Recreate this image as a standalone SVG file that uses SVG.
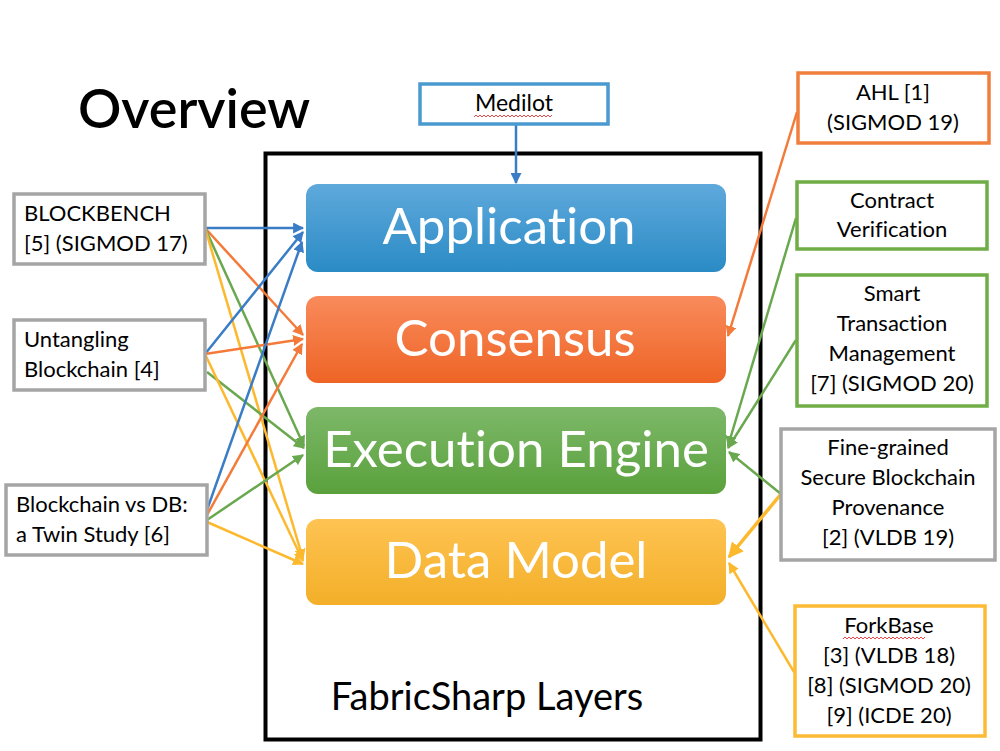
<svg xmlns="http://www.w3.org/2000/svg" width="1000" height="751" viewBox="0 0 1000 751">
<style>
text{font-family:Lato,"Open Sans","Liberation Sans",sans-serif;fill:#000;font-variant-ligatures:none}
.box{fill:#fff;stroke-width:3.5}
.gray{stroke:#A5A5A5}
.org{stroke:#F07F3C}
.grn{stroke:#70AD47}
.yel{stroke:#FDBA34}
.lbl{font-size:22px}
.mid{text-anchor:middle}
.layer{font-size:51px;fill:#fff;text-anchor:middle}
.c{fill:none;stroke-width:2.5}
.cb{stroke:#3A7DC6;marker-end:url(#ab)}
.co{stroke:#F47A3A;marker-end:url(#ao)}
.cg{stroke:#6AA84F;marker-end:url(#ag)}
.cy{stroke:#FDB92E;marker-end:url(#ay)}
.sq{fill:none;stroke:#E8474C;stroke-width:1}
</style>
<defs>
<linearGradient id="gb" x1="0" y1="0" x2="0" y2="1"><stop offset="0" stop-color="#5FA9DC"/><stop offset="1" stop-color="#2A8BC5"/></linearGradient>
<linearGradient id="go" x1="0" y1="0" x2="0" y2="1"><stop offset="0" stop-color="#F98B5C"/><stop offset="1" stop-color="#EE6425"/></linearGradient>
<linearGradient id="gg" x1="0" y1="0" x2="0" y2="1"><stop offset="0" stop-color="#7DB869"/><stop offset="1" stop-color="#5AA13C"/></linearGradient>
<linearGradient id="gy" x1="0" y1="0" x2="0" y2="1"><stop offset="0" stop-color="#FEC352"/><stop offset="1" stop-color="#F3AF28"/></linearGradient>
<marker id="ab" viewBox="0 0 10 10" refX="9" refY="5" markerWidth="4.4" markerHeight="4.4" orient="auto" markerUnits="strokeWidth"><path d="M0,0L10,5L0,10z" fill="#3A7DC6"/></marker>
<marker id="ao" viewBox="0 0 10 10" refX="9" refY="5" markerWidth="4.4" markerHeight="4.4" orient="auto" markerUnits="strokeWidth"><path d="M0,0L10,5L0,10z" fill="#F47A3A"/></marker>
<marker id="ag" viewBox="0 0 10 10" refX="9" refY="5" markerWidth="4.4" markerHeight="4.4" orient="auto" markerUnits="strokeWidth"><path d="M0,0L10,5L0,10z" fill="#6AA84F"/></marker>
<marker id="ay" viewBox="0 0 10 10" refX="9" refY="5" markerWidth="4.4" markerHeight="4.4" orient="auto" markerUnits="strokeWidth"><path d="M0,0L10,5L0,10z" fill="#FDB92E"/></marker>
</defs>
<rect width="1000" height="751" fill="#fff"/>
<text x="78" y="128" font-size="54" style="font-weight:600">Overview</text>

<g id="frame">
<rect x="265.5" y="153.5" width="495" height="586" fill="none" stroke="#000" stroke-width="4"/>
<text x="487" y="710" font-size="38" class="mid">FabricSharp Layers</text>
</g>

<g id="application"><rect x="306" y="184" width="420" height="88" rx="12" fill="url(#gb)"/><text x="509" y="244" class="layer">Application</text></g>
<g id="consensus"><rect x="306" y="296" width="420" height="87" rx="12" fill="url(#go)"/><text x="515" y="356" class="layer">Consensus</text></g>
<g id="execution"><rect x="306" y="407" width="420" height="87" rx="12" fill="url(#gg)"/><text x="516" y="467" class="layer">Execution Engine</text></g>
<g id="datamodel"><rect x="306" y="519" width="420" height="86" rx="12" fill="url(#gy)"/><text x="516" y="578" class="layer">Data Model</text></g>

<g id="connectors">
<line class="c cb" x1="516" y1="125" x2="516" y2="183"/>
<line class="c cb" x1="205" y1="228" x2="303" y2="228"/>
<line class="c co" x1="205" y1="228" x2="303" y2="335"/>
<line class="c cg" x1="205" y1="228" x2="304" y2="446"/>
<line class="c cy" x1="205" y1="228" x2="303" y2="559"/>
<line class="c cb" x1="205" y1="354" x2="303" y2="232"/>
<line class="c co" x1="205" y1="354" x2="303" y2="339"/>
<line class="c cg" x1="207" y1="372" x2="304" y2="448"/>
<line class="c cy" x1="205" y1="354" x2="303" y2="561"/>
<line class="c cb" x1="207" y1="510" x2="302" y2="242"/>
<line class="c co" x1="207" y1="515" x2="302" y2="344"/>
<line class="c cg" x1="207" y1="520" x2="303" y2="455"/>
<line class="c cy" x1="207" y1="522" x2="303" y2="564"/>
<line class="c co" x1="797" y1="112" x2="728" y2="336"/>
<line class="c cg" x1="796" y1="218" x2="728" y2="446"/>
<line class="c cg" x1="796" y1="340" x2="728" y2="448"/>
<line class="c cg" x1="781" y1="494" x2="729" y2="452"/>
<line class="c cy" x1="781" y1="494" x2="729" y2="557" style="stroke-width:3.5"/>
<line class="c cy" x1="794" y1="672" x2="729" y2="563"/>
</g>

<g id="medilot"><rect x="420" y="84" width="188" height="40" fill="#fff" stroke="#4A9ACF" stroke-width="3.5"/><text x="514" y="111" class="mid" font-size="23">Medilot</text><path class="sq" d="M474,117l2,-2l2,2l2,-2l2,2l2,-2l2,2l2,-2l2,2l2,-2l2,2l2,-2l2,2l2,-2l2,2l2,-2l2,2l2,-2l2,2l2,-2l2,2l2,-2l2,2l2,-2l2,2l2,-2l2,2l2,-2l2,2l2,-2l2,2l2,-2l2,2l2,-2l2,2l2,-2l2,2l2,-2l2,2l2,-2"/></g>

<g id="blockbench"><rect class="box gray" x="14" y="194" width="191" height="70"/><text x="24" y="221" class="lbl">BLOCKBENCH</text><text x="24" y="251" class="lbl">[5] (SIGMOD 17)</text></g>
<g id="untangling"><rect class="box gray" x="14" y="320" width="191" height="70"/><text x="24" y="347" class="lbl">Untangling</text><text x="24" y="377" class="lbl">Blockchain [4]</text></g>
<g id="twin"><rect class="box gray" x="6" y="485" width="201" height="70"/><text x="16" y="512" class="lbl">Blockchain vs DB:</text><text x="16" y="542" class="lbl">a Twin Study [6]</text></g>

<g id="ahl"><rect class="box org" x="798" y="73" width="191" height="70"/><text x="893" y="100" class="lbl mid">AHL [1]</text><text x="893" y="130" class="lbl mid">(SIGMOD 19)</text></g>
<g id="contract"><rect class="box grn" x="797" y="182" width="190" height="67"/><text x="892" y="208" class="lbl mid">Contract</text><text x="892" y="237" class="lbl mid">Verification</text></g>
<g id="smart"><rect class="box grn" x="797" y="275" width="190" height="131"/><text x="892" y="301" class="lbl mid">Smart</text><text x="892" y="331" class="lbl mid">Transaction</text><text x="892" y="361" class="lbl mid">Management</text><text x="892" y="391" class="lbl mid">[7] (SIGMOD 20)</text></g>
<g id="provenance"><rect class="box gray" x="781" y="429" width="214" height="131"/><text x="888" y="455" class="lbl mid">Fine-grained</text><text x="888" y="485" class="lbl mid">Secure Blockchain</text><text x="888" y="515" class="lbl mid">Provenance</text><text x="888" y="545" class="lbl mid">[2] (VLDB 19)</text></g>
<g id="forkbase"><rect class="box yel" x="795" y="606" width="190" height="130"/><text x="889" y="633" class="lbl mid">ForkBase</text><path class="sq" d="M843,639l2,-2l2,2l2,-2l2,2l2,-2l2,2l2,-2l2,2l2,-2l2,2l2,-2l2,2l2,-2l2,2l2,-2l2,2l2,-2l2,2l2,-2l2,2l2,-2l2,2l2,-2l2,2l2,-2l2,2l2,-2l2,2l2,-2l2,2l2,-2l2,2l2,-2l2,2l2,-2l2,2l2,-2l2,2l2,-2l2,2l2,-2"/><text x="889" y="663" class="lbl mid">[3] (VLDB 18)</text><text x="889" y="693" class="lbl mid">[8] (SIGMOD 20)</text><text x="889" y="723" class="lbl mid">[9] (ICDE 20)</text></g>
</svg>
